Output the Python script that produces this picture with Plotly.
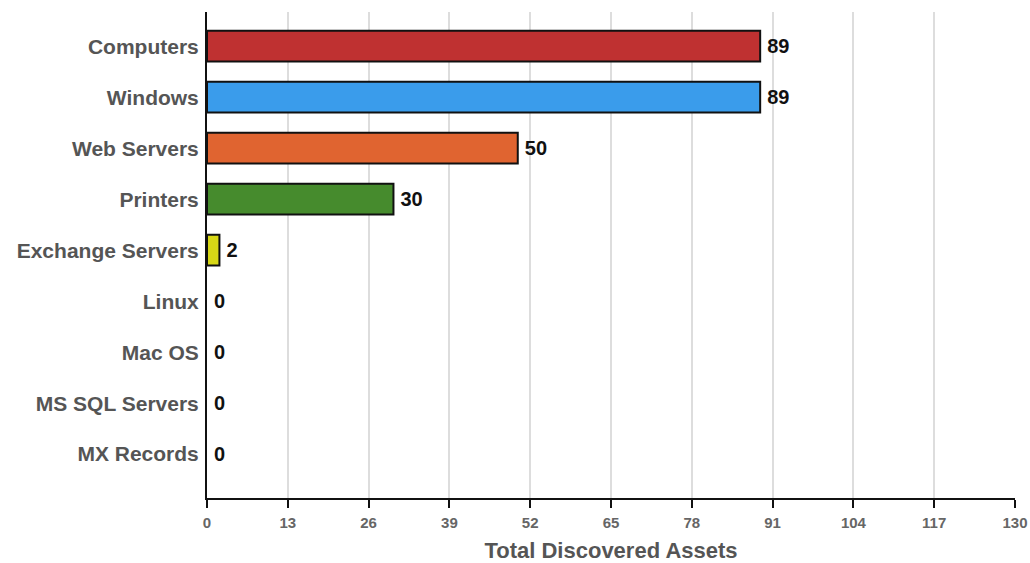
import plotly.graph_objects as go

categories = ["Computers", "Windows", "Web Servers", "Printers", "Exchange Servers",
              "Linux", "Mac OS", "MS SQL Servers", "MX Records"]
values = [89, 89, 50, 30, 2, 0, 0, 0, 0]
colors = ["#BF3131", "#3A9CEB", "#E06430", "#468B2D", "#D8D816",
          "#888888", "#888888", "#888888", "#888888"]
tick_vals = [0, 13, 26, 39, 52, 65, 78, 91, 104, 117, 130]

line_widths = [2 if v > 0 else 0 for v in values]

fig = go.Figure(go.Bar(
    y=categories, x=values, orientation="h",
    marker=dict(color=colors, line=dict(color="#111111", width=line_widths)),
    width=0.6,
    text=["\u2009" + str(v) for v in values], textposition="outside",
    textfont=dict(family="Liberation Sans, Arial", size=20, color="#111111", weight="bold"),
    cliponaxis=False,
))

fig.update_layout(
    width=1030, height=563,
    margin=dict(l=207, r=15, t=12, b=65),
    paper_bgcolor="white", plot_bgcolor="white",
    showlegend=False,
    font=dict(family="Liberation Sans, Arial"),
    xaxis=dict(
        range=[0, 130], tickvals=tick_vals, ticktext=[str(t) for t in tick_vals],
        automargin=False,
        showgrid=True, gridcolor="#DDDDDD", gridwidth=2,
        showline=True, linecolor="#111111", linewidth=2,
        ticks="outside", ticklen=8, tickwidth=2, tickcolor="#111111",
        tickfont=dict(size=15, color="#666666", weight="bold"),
        ticklabelstandoff=2,
        title=dict(text="Total Discovered Assets", standoff=14,
                   font=dict(size=22, color="#555555", weight="bold")),
        zeroline=False,
    ),
    yaxis=dict(
        categoryorder="array", categoryarray=categories,
        range=[8.86, -0.67], automargin=False,
        showline=True, linecolor="#111111", linewidth=2,
        showgrid=False, ticks="", ticklen=0,
        tickfont=dict(size=21, color="#555555", weight="bold"),
        ticklabelstandoff=2,
    ),
)

fig.write_html(
    "out.html",
    config={"displayModeBar": False},
    post_script="document.body.style.margin='0px';document.body.style.overflow='hidden';",
)
